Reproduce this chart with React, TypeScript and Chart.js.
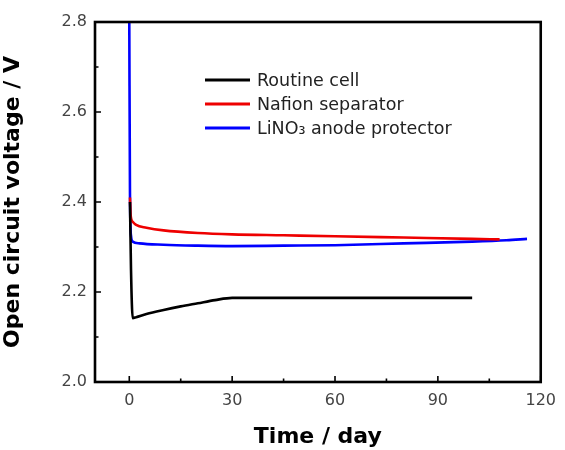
import React, { useEffect, useRef } from "react";
import { Chart, registerables } from "chart.js";

Chart.register(...registerables);

const seriesLabels = ["Routine cell", "Nafion separator", "LiNO\u2083 anode protector"];

const routineDays = [0.2, 0.5, 1, 2, 5, 10, 15, 20, 25, 30, 40, 60, 80, 100];
const routineVolts = [2.4, 2.25, 2.142, 2.144, 2.151, 2.160, 2.168, 2.175, 2.182, 2.187, 2.187, 2.187, 2.187, 2.187];

const nafionDays = [0.2, 0.4, 1, 2, 5, 10, 20, 30, 45, 60, 80, 100, 108];
const nafionVolts = [2.41, 2.37, 2.356, 2.349, 2.343, 2.337, 2.331, 2.328, 2.326, 2.324, 2.321, 2.318, 2.317];

const linoDays = [0, 0.2, 0.5, 1, 3, 10, 20, 30, 45, 60, 80, 100, 110, 116];
const linoVolts = [2.8, 2.42, 2.325, 2.312, 2.308, 2.305, 2.303, 2.302, 2.303, 2.304, 2.308, 2.312, 2.315, 2.318];

const xTickValues = [0, 30, 60, 90, 120];
const yTickValues = [2.0, 2.2, 2.4, 2.6, 2.8];

const seriesColors = ["#000000", "#ee0000", "#0000ff"];

const toPoints = (xs: number[], ys: number[]) => xs.map((x, i) => ({ x, y: ys[i] }));

const framePlugin = {
  id: "frameTicks",
  afterDatasetsDraw(chart: any) {
    const { ctx, chartArea: a, scales } = chart;
    ctx.save();
    ctx.strokeStyle = "#000";
    ctx.lineWidth = 1.6;
    const xs = scales.x;
    const ys = scales.y;
    const xv: number[] = xs.ticks.map((t: any) => t.value);
    const yv: number[] = ys.ticks.map((t: any) => t.value);
    const mids = (v: number[]) => v.slice(0, -1).map((d, i) => (d + v[i + 1]) / 2);
    ctx.beginPath();
    xv.forEach((v) => {
      const p = xs.getPixelForValue(v);
      ctx.moveTo(p, a.bottom);
      ctx.lineTo(p, a.bottom - 6);
    });
    mids(xv).forEach((v) => {
      const p = xs.getPixelForValue(v);
      ctx.moveTo(p, a.bottom);
      ctx.lineTo(p, a.bottom - 3.5);
    });
    yv.forEach((v) => {
      const p = ys.getPixelForValue(v);
      ctx.moveTo(a.left, p);
      ctx.lineTo(a.left + 6, p);
    });
    mids(yv).forEach((v) => {
      const p = ys.getPixelForValue(v);
      ctx.moveTo(a.left, p);
      ctx.lineTo(a.left + 3.5, p);
    });
    ctx.stroke();
    ctx.lineWidth = 2.6;
    ctx.strokeRect(a.left, a.top, a.right - a.left, a.bottom - a.top);
    ctx.restore();
  },
};

const legendPlugin = {
  id: "innerLegend",
  afterDatasetsDraw(chart: any) {
    const { ctx } = chart;
    ctx.save();
    ctx.font = "17.5px 'DejaVu Sans'";
    ctx.textBaseline = "middle";
    chart.data.datasets.forEach((ds: any, i: number) => {
      const y = 80 + i * 24;
      ctx.strokeStyle = ds.borderColor;
      ctx.lineWidth = 3;
      ctx.beginPath();
      ctx.moveTo(205, y);
      ctx.lineTo(250, y);
      ctx.stroke();
      ctx.fillStyle = "#222";
      ctx.fillText(ds.label, 257, y + 1);
    });
    ctx.restore();
  },
};

const bgPlugin = {
  id: "bg",
  beforeDraw(chart: any) {
    const { ctx, width, height } = chart;
    ctx.save();
    ctx.fillStyle = "#fff";
    ctx.fillRect(0, 0, width, height);
    ctx.restore();
  },
};

export default function App() {
  const ref = useRef<HTMLCanvasElement | null>(null);
  useEffect(() => {
    if (!ref.current) return;
    const allSeries = [
      toPoints(routineDays, routineVolts),
      toPoints(nafionDays, nafionVolts),
      toPoints(linoDays, linoVolts),
    ];
    const chart = new Chart(ref.current, {
      type: "line",
      data: {
        datasets: allSeries.map((d, i) => ({
          label: seriesLabels[i],
          data: d,
          borderColor: seriesColors[i],
          backgroundColor: seriesColors[i],
          borderWidth: 2.6,
          pointRadius: 0,
          cubicInterpolationMode: "monotone" as const,
          fill: false,
        })),
      },
      options: {
        responsive: false,
        animation: false,
        layout: { padding: { left: 0, top: 22, right: 17, bottom: 0 } },
        plugins: { legend: { display: false }, tooltip: { enabled: false } },
        scales: {
          x: {
            type: "linear",
            min: -10,
            max: 120,
            grid: { display: false, drawTicks: false },
            border: { display: false },
            afterBuildTicks: (s: any) => {
              s.ticks = xTickValues.map((v) => ({ value: v }));
            },
            afterFit: (s: any) => {
              s.height = 68;
            },
            ticks: {
              padding: 9,
              color: "#444",
              font: { family: "'DejaVu Sans'", size: 16 },
              maxRotation: 0,
            },
            title: {
              display: true,
              text: "Time / day",
              color: "#000",
              font: { family: "'DejaVu Sans'", size: 22, weight: "bold" },
              padding: { top: 6, bottom: 0 },
            },
          },
          y: {
            type: "linear",
            min: 2.0,
            max: 2.8,
            grid: { display: false, drawTicks: false },
            border: { display: false },
            afterBuildTicks: (s: any) => {
              s.ticks = yTickValues.map((v) => ({ value: v }));
            },
            afterFit: (s: any) => {
              s.width = 95;
            },
            ticks: {
              padding: 8,
              color: "#444",
              font: { family: "'DejaVu Sans'", size: 16 },
              callback: (v: any) => Number(v).toFixed(1),
            },
            title: {
              display: true,
              text: "Open circuit voltage / V",
              color: "#000",
              font: { family: "'DejaVu Sans'", size: 22, weight: "bold" },
              padding: { top: 0, bottom: 10 },
            },
          },
        },
      },
      plugins: [bgPlugin, framePlugin, legendPlugin],
    });
    return () => chart.destroy();
  }, []);
  return (
    <canvas
      ref={ref}
      width={565}
      height={450}
      style={{ position: "absolute", left: 0, top: 0, display: "block" }}
    />
  );
}
